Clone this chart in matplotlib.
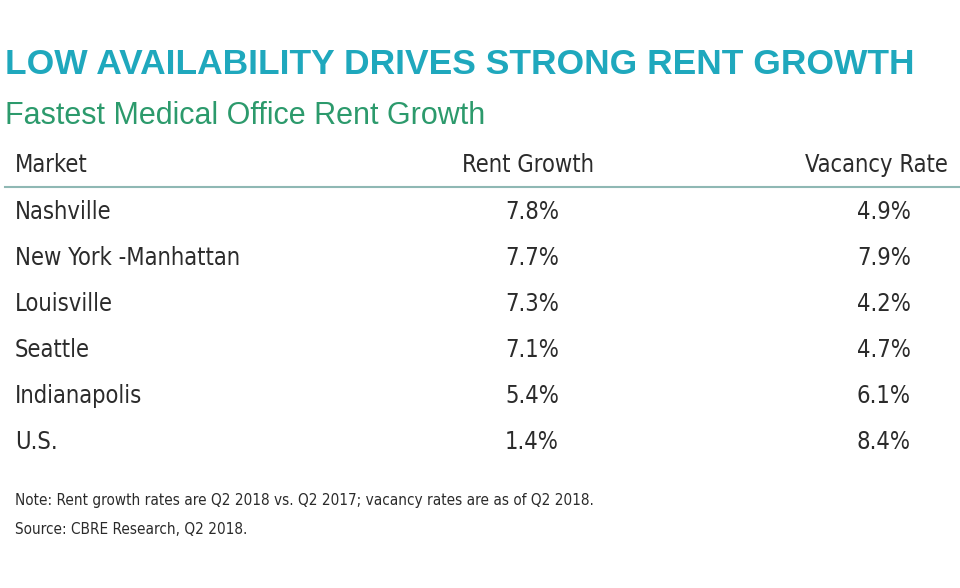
import matplotlib
matplotlib.use("Agg")
import matplotlib.pyplot as plt
from matplotlib.lines import Line2D

plt.rcParams['font.family'] = ['DejaVu Sans']
plt.rcParams['font.stretch'] = 'condensed'

markets = ["Nashville", "New York -Manhattan", "Louisville", "Seattle", "Indianapolis", "U.S."]
rent_growth = [7.8, 7.7, 7.3, 7.1, 5.4, 1.4]
vacancy = [4.9, 7.9, 4.2, 4.7, 6.1, 8.4]
headers = ["Market", "Rent Growth", "Vacancy Rate"]

W, H = 960, 588
fig = plt.figure(figsize=(9.6, 5.88), dpi=100)
fig.patch.set_facecolor("white")

def T(x, y, s, **kw):
    fig.text(x / W, 1 - y / H, s, va="center", **kw)

T(5, 64, "LOW AVAILABILITY DRIVES STRONG RENT GROWTH", fontsize=25.5, fontweight="bold",
  color="#1fa8bd", family=['Liberation Sans', 'DejaVu Sans'], fontstretch='normal')
T(5, 116, "Fastest Medical Office Rent Growth", fontsize=22, color="#2c9a6c",
  family=['Liberation Sans', 'DejaVu Sans'], fontstretch='normal')

txt = "#2b2b2b"
T(15, 165, headers[0], fontsize=17, color=txt)
T(594, 165, headers[1], fontsize=17, color=txt, ha="right")
T(948, 165, headers[2], fontsize=17, color=txt, ha="right")
fig.add_artist(Line2D([5 / W, 1], [1 - 187 / H] * 2, color="#8fb8b4", lw=1.5))

for i, (m, r, v) in enumerate(zip(markets, rent_growth, vacancy)):
    y = 212 + i * 46
    T(15, y, m, fontsize=17, color=txt)
    T(559, y, f"{r:.1f}%", fontsize=17, color=txt, ha="right")
    T(911, y, f"{v:.1f}%", fontsize=17, color=txt, ha="right")

T(15, 500, "Note: Rent growth rates are Q2 2018 vs. Q2 2017; vacancy rates are as of Q2 2018.",
  fontsize=11, color=txt)
T(15, 530, "Source: CBRE Research, Q2 2018.", fontsize=11, color=txt)

fig.savefig("out.png", dpi=100, facecolor="white")
